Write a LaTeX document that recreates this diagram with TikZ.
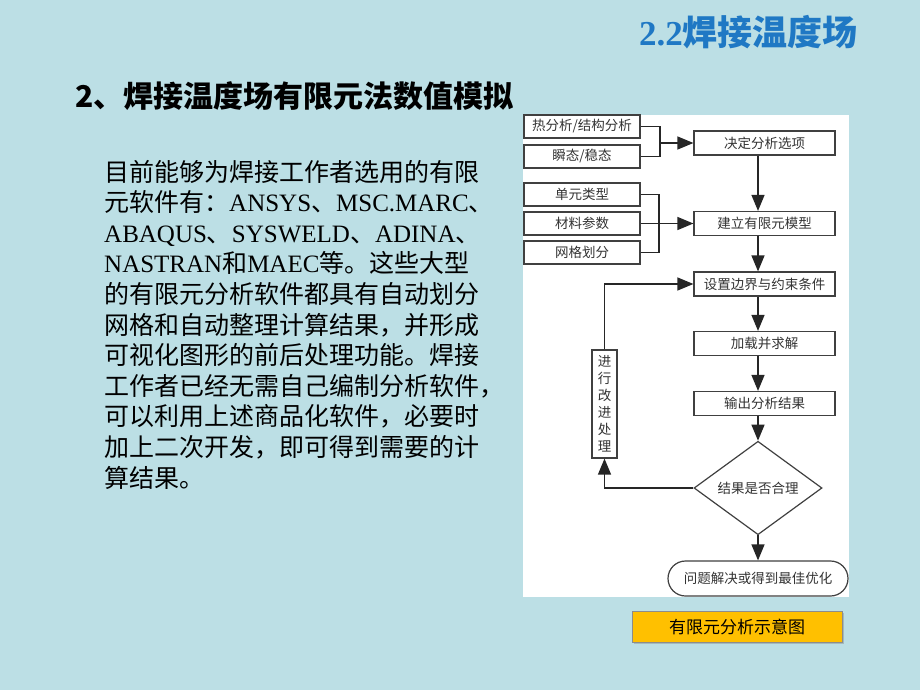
\documentclass[tikz,border=0pt]{standalone}
\usepackage{fontspec}
\setmainfont{Liberation Serif}
\newfontfamily\cjk{Noto Sans CJK SC}
\usetikzlibrary{arrows.meta,shapes.geometric,shadows}
\definecolor{bgc}{HTML}{BCDFE5}
\definecolor{titleblue}{HTML}{1F78C4}
\definecolor{capyellow}{HTML}{FFC000}
\newcommand\LT[1]{{\rmfamily #1}}
\begin{document}
\begin{tikzpicture}[x=1pt,y=-1pt,
  fbox/.style={draw=black!75,line width=1.2pt,fill=white,inner sep=0pt,
    font=\cjk\fontsize{13.5}{15}\selectfont,text=black!80},
  lbox/.style={fbox,minimum width=116pt,minimum height=23pt},
  rbox/.style={fbox,minimum width=141pt,minimum height=24pt},
  conn/.style={draw=black!85,line width=1.3pt},
  arr/.style={conn,-{Triangle[length=16pt,width=13pt]}},
  body/.style={anchor=base west,inner sep=0pt,font=\cjk\fontsize{25}{28}\selectfont}]
\useasboundingbox (0,0) rectangle (920,690);
\fill[bgc] (0,0) rectangle (920,690);
% title
\node[text=titleblue,font=\cjk\bfseries\fontsize{35}{38}\selectfont,anchor=east,inner sep=0pt] (title) at (858,32) {\LT{\bfseries 2.2}焊接温度场};
\node[font=\cjk\bfseries\fontsize{30}{34}\selectfont,anchor=west,inner sep=0pt] (head) at (75,96) {2、焊接温度场有限元法数值模拟};
% body text
\node[body] (l1) at (104,181) {目前能够为焊接工作者选用的有限};
\node[body] (l2) at (104,211.6) {元软件有：\LT{ANSYS}、\LT{MSC.MARC}、};
\node[body] (l3) at (104,242.2) {\LT{ABAQUS}、\LT{SYSWELD}、\LT{ADINA}、};
\node[body] (l4) at (104,272.8) {\LT{NASTRAN}和\LT{MAEC}等。这些大型};
\node[body] (l5) at (104,303.4) {的有限元分析软件都具有自动划分};
\node[body] (l6) at (104,334) {网格和自动整理计算结果，并形成};
\node[body] (l7) at (104,364.6) {可视化图形的前后处理功能。焊接};
\node[body] (l8) at (104,395.2) {工作者已经无需自己编制分析软件，};
\node[body] (l9) at (104,425.8) {可以利用上述商品化软件，必要时};
\node[body] (l10) at (104,456.4) {加上二次开发，即可得到需要的计};
\node[body] (l11) at (104,487) {算结果。};
% panel
\fill[white] (523,115) rectangle (849,597);
% flowchart
\node[lbox] (h1) at (582,126.5) {热分析/结构分析};
\node[lbox] (h2) at (582,156.5) {瞬态/稳态};
\node[lbox] (u1) at (582,194.5) {单元类型};
\node[lbox] (u2) at (582,223.5) {材料参数};
\node[lbox] (u3) at (582,252.5) {网格划分};
\node[rbox] (r1) at (764.5,143) {决定分析选项};
\node[rbox] (r2) at (764.5,223.5) {建立有限元模型};
\node[rbox] (r3) at (764.5,284) {设置边界与约束条件};
\node[rbox] (r4) at (764.5,343.5) {加载并求解};
\node[rbox] (r5) at (764.5,403.5) {输出分析结果};
\node[fbox,diamond,minimum width=128pt,minimum height=71pt] (dd) at (758,488) {结果是否合理};
\node[fbox,rounded corners=17.5pt,minimum width=180pt,minimum height=35pt] (term) at (758,578.5) {问题解决或得到最佳优化};
\node[fbox,minimum width=25pt,minimum height=108pt,align=center,font=\cjk\fontsize{13.5}{17}\selectfont] (fb) at (604.5,404) {进\\行\\改\\进\\处\\理};
\coordinate (j1) at (660,143);
\coordinate (j2) at (659,223.5);
\draw[conn] (h1.east) -| (j1);
\draw[conn] (h2.east) -| (j1);
\draw[arr] (j1) -- (r1.west);
\draw[conn] (u1.east) -| (j2);
\draw[conn] (u3.east) -| (j2);
\draw[arr] (u2.east) -- (r2.west);
\draw[arr] (r1.south -| dd.north) -- (r2.north -| dd.north);
\draw[arr] (r2.south -| dd.north) -- (r3.north -| dd.north);
\draw[arr] (r3.south -| dd.north) -- (r4.north -| dd.north);
\draw[arr] (r4.south -| dd.north) -- (r5.north -| dd.north);
\draw[arr] (r5.south -| dd.north) -- (dd.north);
\draw[arr] (dd.south) -- (term.north);
\draw[arr] (dd.west) -| (fb.south);
\draw[arr] (fb.north) |- (r3.west);
% caption
\node[draw=black!45,line width=0.6pt,fill=capyellow,minimum width=210pt,minimum height=31pt,inner sep=0pt,
  drop shadow={shadow xshift=2pt,shadow yshift=-2pt,opacity=0.4},
  font=\cjk\fontsize{17}{20}\selectfont] (cap) at (737,626.5) {有限元分析示意图};
\end{tikzpicture}
\end{document}
